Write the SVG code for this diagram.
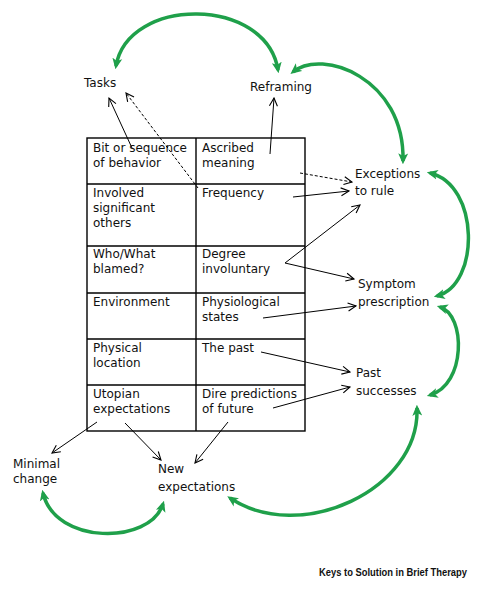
<svg xmlns="http://www.w3.org/2000/svg" width="480" height="590" viewBox="0 0 480 590">
<style>
  .t{font-family:"DejaVu Sans","Verdana",sans-serif;font-size:12px;fill:#111}
  .ft{font-family:"Liberation Sans",Arial,sans-serif;font-size:10px;font-weight:bold;fill:#111}
  .grid{fill:none;stroke:#000;stroke-width:1.4}
  .bk{fill:none;stroke:#000;stroke-width:1}
  .dash{stroke-dasharray:3,2}
  .gr{fill:none;stroke:#1fa04a;stroke-width:3.5}
</style>
<defs>
  <marker id="ah" markerUnits="userSpaceOnUse" markerWidth="10" markerHeight="10" viewBox="0 0 10 10" refX="9" refY="5" orient="auto-start-reverse">
    <path d="M1,1 L9,5 L1,9" fill="none" stroke="#000" stroke-width="1.1"/>
  </marker>
  <marker id="gh" markerUnits="userSpaceOnUse" markerWidth="11" markerHeight="11" viewBox="0 0 10 10" refX="7" refY="5" orient="auto-start-reverse">
    <path d="M0,0.5 L10,5 L0,9.5 L2.5,5 z" fill="#1fa04a"/>
  </marker>
</defs>

<g id="table">
  <rect class="grid" x="87" y="138" width="218" height="293"/>
  <line class="grid" x1="196" y1="138" x2="196" y2="431"/>
  <line class="grid" x1="87" y1="184" x2="305" y2="184"/>
  <line class="grid" x1="87" y1="246" x2="305" y2="246"/>
  <line class="grid" x1="87" y1="293" x2="305" y2="293"/>
  <line class="grid" x1="87" y1="339" x2="305" y2="339"/>
  <line class="grid" x1="87" y1="385" x2="305" y2="385"/>
  <g id="c11"><text class="t" x="93" y="152">Bit or sequence</text><text class="t" x="93" y="166.5">of behavior</text></g>
  <g id="c12"><text class="t" x="202" y="152">Ascribed</text><text class="t" x="202" y="166.5">meaning</text></g>
  <g id="c21"><text class="t" x="93" y="197">Involved</text><text class="t" x="93" y="212">significant</text><text class="t" x="93" y="227">others</text></g>
  <g id="c22"><text class="t" x="202" y="197">Frequency</text></g>
  <g id="c31"><text class="t" x="93" y="258">Who/What</text><text class="t" x="93" y="273">blamed?</text></g>
  <g id="c32"><text class="t" x="202" y="258">Degree</text><text class="t" x="202" y="273">involuntary</text></g>
  <g id="c41"><text class="t" x="93" y="306">Environment</text></g>
  <g id="c42"><text class="t" x="202" y="306">Physiological</text><text class="t" x="202" y="321">states</text></g>
  <g id="c51"><text class="t" x="93" y="352">Physical</text><text class="t" x="93" y="367">location</text></g>
  <g id="c52"><text class="t" x="202" y="352">The past</text></g>
  <g id="c61"><text class="t" x="93" y="398">Utopian</text><text class="t" x="93" y="413">expectations</text></g>
  <g id="c62"><text class="t" x="202" y="398">Dire predictions</text><text class="t" x="202" y="413">of future</text></g>
</g>

<g id="tasks"><text class="t" x="84" y="87">Tasks</text></g>
<g id="reframing"><text class="t" x="250" y="91">Reframing</text></g>
<g id="exceptions"><text class="t" x="355" y="178">Exceptions</text><text class="t" x="355" y="195">to rule</text></g>
<g id="symptom"><text class="t" x="358" y="288">Symptom</text><text class="t" x="358" y="306">prescription</text></g>
<g id="past"><text class="t" x="356" y="377">Past</text><text class="t" x="356" y="395">successes</text></g>
<g id="minimal"><text class="t" x="13" y="468">Minimal</text><text class="t" x="13" y="483">change</text></g>
<g id="newexp"><text class="t" x="158" y="473">New</text><text class="t" x="158" y="491">expectations</text></g>

<g id="connectors">
  <path class="bk" d="M132,148 L109,98" marker-end="url(#ah)"/>
  <path class="bk dash" d="M198,188 L126,93" marker-end="url(#ah)"/>
  <path class="bk" d="M270,154 L274,98" marker-end="url(#ah)"/>
  <path class="bk dash" d="M300,173 L352,182" marker-end="url(#ah)"/>
  <path class="bk" d="M293,197 L349,191" marker-end="url(#ah)"/>
  <path class="bk" d="M360,205 L285,263 L354,279" marker-start="url(#ah)" marker-end="url(#ah)"/>
  <path class="bk" d="M263,318 L356,306" marker-end="url(#ah)"/>
  <path class="bk" d="M261,352 L350,372" marker-end="url(#ah)"/>
  <path class="bk" d="M273,408 L350,387" marker-end="url(#ah)"/>
  <path class="bk" d="M97,422 L52,453" marker-end="url(#ah)"/>
  <path class="bk" d="M125,423 L161,460" marker-end="url(#ah)"/>
  <path class="bk" d="M228,422 L195,463" marker-end="url(#ah)"/>

  <path class="gr" d="M116,66 C 128,-4 266,-4 278,70" marker-start="url(#gh)" marker-end="url(#gh)"/>
  <path class="gr" d="M293,72 C 322,48 405,78 403,161" marker-start="url(#gh)" marker-end="url(#gh)"/>
  <path class="gr" d="M430,173 C 480,185 480,285 437,296" marker-start="url(#gh)" marker-end="url(#gh)"/>
  <path class="gr" d="M440,307 C 466,315 466,385 430,395" marker-start="url(#gh)" marker-end="url(#gh)"/>
  <path class="gr" d="M417,408 C 420,490 300,545 230,498" marker-start="url(#gh)" marker-end="url(#gh)"/>
  <path class="gr" d="M43,493 C 55,545 150,545 163,504" marker-start="url(#gh)" marker-end="url(#gh)"/>
</g>

<text class="ft" x="319" y="576" textLength="148" lengthAdjust="spacingAndGlyphs">Keys to Solution in Brief Therapy</text>
</svg>
